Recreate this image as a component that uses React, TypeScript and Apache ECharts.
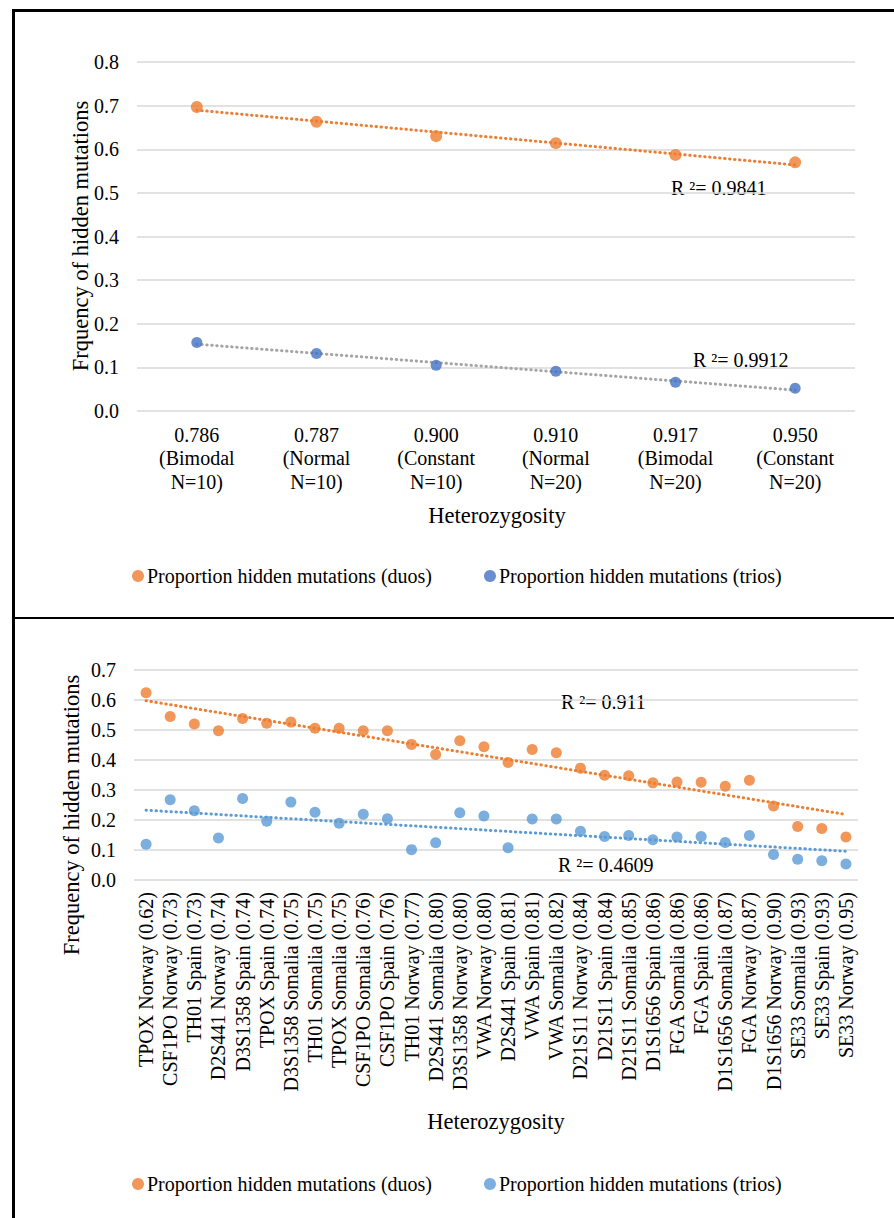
import React, { useEffect, useRef } from "react";
import * as echarts from "echarts";

const FONT = '"Liberation Serif", "Times New Roman", Times, serif';

// ---------- Data: top chart ----------
const topCategories = [
  "0.786\n(Bimodal\nN=10)",
  "0.787\n(Normal\nN=10)",
  "0.900\n(Constant\nN=10)",
  "0.910\n(Normal\nN=20)",
  "0.917\n(Bimodal\nN=20)",
  "0.950\n(Constant\nN=20)",
];
const topDuos = [0.697, 0.663, 0.630, 0.614, 0.587, 0.570];
const topTrios = [0.157, 0.132, 0.105, 0.091, 0.066, 0.052];
const topYTicks = { min: 0, max: 0.8, interval: 0.1 };

// ---------- Data: bottom chart ----------
const bottomCategories = [
  "TPOX Norway (0.62)",
  "CSF1PO Norway (0.73)",
  "TH01 Spain (0.73)",
  "D2S441 Norway (0.74)",
  "D3S1358 Spain (0.74)",
  "TPOX Spain (0.74)",
  "D3S1358 Somalia (0.75)",
  "TH01 Somalia (0.75)",
  "TPOX Somalia (0.75)",
  "CSF1PO Somalia (0.76)",
  "CSF1PO Spain (0.76)",
  "TH01 Norway (0.77)",
  "D2S441 Somalia (0.80)",
  "D3S1358 Norway (0.80)",
  "VWA Norway (0.80)",
  "D2S441 Spain (0.81)",
  "VWA Spain (0.81)",
  "VWA Somalia (0.82)",
  "D21S11 Norway (0.84)",
  "D21S11 Spain (0.84)",
  "D21S11 Somalia (0.85)",
  "D1S1656 Spain (0.86)",
  "FGA Somalia (0.86)",
  "FGA Spain (0.86)",
  "D1S1656 Somalia (0.87)",
  "FGA Norway (0.87)",
  "D1S1656 Norway (0.90)",
  "SE33 Somalia (0.93)",
  "SE33 Spain (0.93)",
  "SE33 Norway (0.95)",
];
const bottomDuos = [
  0.623, 0.544, 0.519, 0.496, 0.537, 0.521, 0.525, 0.505, 0.505, 0.496,
  0.496, 0.451, 0.417, 0.463, 0.443, 0.391, 0.434, 0.423, 0.372, 0.348,
  0.347, 0.323, 0.326, 0.325, 0.312, 0.332, 0.246, 0.178, 0.171, 0.143,
];
const bottomTrios = [
  0.119, 0.267, 0.230, 0.140, 0.271, 0.195, 0.259, 0.225, 0.189, 0.219,
  0.204, 0.101, 0.124, 0.224, 0.213, 0.107, 0.203, 0.203, 0.162, 0.145,
  0.148, 0.134, 0.143, 0.145, 0.125, 0.148, 0.085, 0.069, 0.064, 0.053,
];
const bottomYTicks = { min: 0, max: 0.7, interval: 0.1 };

const DUOS_NAME = "Proportion hidden mutations (duos)";
const TRIOS_NAME = "Proportion hidden mutations (trios)";
const yTitleTop = "Frquency of hidden mutations";
const yTitleBottom = "Frequency of hidden mutations";
const xTitle = "Heterozygosity";
const r2Top = ["R \u00b2= 0.9841", "R \u00b2= 0.9912"];
const r2Bottom = ["R \u00b2= 0.911", "R \u00b2= 0.4609"];

const ORANGE = "#ED7D31";
const DARK_BLUE = "#4472C4";
const LIGHT_BLUE = "#5B9BD5";
const GRAY = "#A5A5A5";
const GRID = "#D9D9D9";

// least squares trendline over category index
function linearFit(v: number[]): number[] {
  const n = v.length;
  let sx = 0, sy = 0, sxx = 0, sxy = 0;
  v.forEach((y, i) => {
    sx += i; sy += y; sxx += i * i; sxy += i * y;
  });
  const b = (n * sxy - sx * sy) / (n * sxx - sx * sx);
  const a = (sy - b * sx) / n;
  return v.map((_, i) => a + b * i);
}

function text(t: string, x: number, y: number, size: number, extra: any = {}) {
  return {
    type: "text",
    x,
    y,
    silent: true,
    style: {
      text: t,
      fill: "#000",
      font: `${size}px ${FONT}`,
      textAlign: extra.align || "left",
      textVerticalAlign: "middle",
    },
    rotation: extra.rotation || 0,
  };
}

function buildOption(cfg: {
  categories: string[];
  duos: number[];
  trios: number[];
  ticks: { min: number; max: number; interval: number };
  grid: any;
  triosColor: string;
  triosTrendColor: string;
  duosSize: number;
  triosSize: number;
  xLabel: any;
  legendTop: number;
  graphic: any[];
}): any {
  const dotted = (color: string) => ({
    color,
    width: 3,
    type: [0.4, 4.6],
    cap: "round",
  });
  return {
    animation: false,
    backgroundColor: "transparent",
    textStyle: { fontFamily: FONT },
    grid: cfg.grid,
    legend: {
      left: 132,
      top: cfg.legendTop,
      padding: 0,
      icon: "circle",
      itemWidth: 12,
      itemHeight: 12,
      itemGap: 52,
      data: [
        { name: DUOS_NAME, itemStyle: { color: ORANGE } },
        { name: TRIOS_NAME, itemStyle: { color: cfg.triosColor } },
      ],
      textStyle: { fontFamily: FONT, fontSize: 20, color: "#000", padding: [0, 0, 0, -2] },
      selectedMode: false,
    },
    xAxis: {
      type: "category",
      data: cfg.categories,
      boundaryGap: true,
      axisLine: { show: false },
      axisTick: { show: false },
      axisLabel: { color: "#000", fontFamily: FONT, fontSize: 20, interval: 0, ...cfg.xLabel },
      splitLine: { show: false },
    },
    yAxis: {
      type: "value",
      min: cfg.ticks.min,
      max: cfg.ticks.max,
      interval: cfg.ticks.interval,
      axisLine: { show: false },
      axisTick: { show: false },
      axisLabel: {
        color: "#000",
        fontFamily: FONT,
        fontSize: 20,
        margin: 18,
        formatter: (v: number) => v.toFixed(1),
      },
      splitLine: { lineStyle: { color: GRID, width: 1.5 } },
    },
    series: [
      {
        name: "duos trend",
        type: "line",
        data: linearFit(cfg.duos),
        showSymbol: false,
        symbol: "none",
        silent: true,
        lineStyle: dotted(ORANGE),
        z: 1,
      },
      {
        name: "trios trend",
        type: "line",
        data: linearFit(cfg.trios),
        showSymbol: false,
        symbol: "none",
        silent: true,
        lineStyle: dotted(cfg.triosTrendColor),
        z: 1,
      },
      {
        name: DUOS_NAME,
        type: "scatter",
        data: cfg.duos,
        symbol: "circle",
        symbolSize: cfg.duosSize,
        itemStyle: { color: ORANGE },
        z: 3,
      },
      {
        name: TRIOS_NAME,
        type: "scatter",
        data: cfg.trios,
        symbol: "circle",
        symbolSize: cfg.triosSize,
        itemStyle: { color: cfg.triosColor },
        z: 3,
      },
    ],
    graphic: cfg.graphic,
  };
}

const TOP_H = 617;
const BOTTOM_TOP = 620;
const BOTTOM_H = 1218 - BOTTOM_TOP;

function topOption() {
  return buildOption({
    categories: topCategories,
    duos: topDuos,
    trios: topTrios,
    ticks: topYTicks,
    grid: { left: 137, right: 39, top: 62, height: 349, containLabel: false },
    triosColor: DARK_BLUE,
    triosTrendColor: GRAY,
    duosSize: 12,
    triosSize: 11,
    xLabel: { margin: 12, lineHeight: 23.5, align: "center" },
    legendTop: 566,
    graphic: [
      text(yTitleTop, 80, 236, 22.5, { align: "center", rotation: Math.PI / 2 }),
      text(xTitle, 497, 515, 22.5, { align: "center" }),
      text(r2Top[0], 671, 188, 20),
      text(r2Top[1], 693, 360, 20),
    ],
  });
}

function bottomOption() {
  return buildOption({
    categories: bottomCategories,
    duos: bottomDuos,
    trios: bottomTrios,
    ticks: bottomYTicks,
    grid: { left: 134, right: 36, top: 49.5, height: 210.5, containLabel: false },
    triosColor: LIGHT_BLUE,
    triosTrendColor: LIGHT_BLUE,
    duosSize: 11,
    triosSize: 11,
    xLabel: { margin: 12, rotate: 90 },
    legendTop: 554,
    graphic: [
      text(yTitleBottom, 71, 195, 22.5, { align: "center", rotation: Math.PI / 2 }),
      text(xTitle, 496, 501, 22.5, { align: "center" }),
      text(r2Bottom[0], 561, 82, 20),
      text(r2Bottom[1], 558, 245, 20),
    ],
  });
}

function Chart(props: { top: number; height: number; option: () => any }) {
  const ref = useRef<HTMLDivElement>(null);
  useEffect(() => {
    if (!ref.current) return;
    const chart = echarts.init(ref.current, undefined, { renderer: "svg" });
    chart.setOption(props.option());
    return () => chart.dispose();
  }, []);
  return (
    <div
      ref={ref}
      style={{ position: "absolute", left: 0, top: props.top, width: 894, height: props.height }}
    />
  );
}

export default function App() {
  const line = (s: React.CSSProperties) => (
    <div style={{ position: "absolute", background: "#000", pointerEvents: "none", ...s }} />
  );
  return (
    <div
      style={{
        position: "absolute",
        left: 0,
        top: 0,
        width: 894,
        height: 1218,
        background: "#fff",
        overflow: "hidden",
      }}
    >
      <Chart top={0} height={TOP_H} option={topOption} />
      <Chart top={BOTTOM_TOP} height={BOTTOM_H} option={bottomOption} />
      {line({ left: 12, top: 9, width: 2.5, height: 1218 - 9 })}
      {line({ left: 12, top: 9, width: 894 - 12, height: 2.5 })}
      {line({ left: 12, top: 616.5, width: 894 - 12, height: 2.5 })}
    </div>
  );
}
